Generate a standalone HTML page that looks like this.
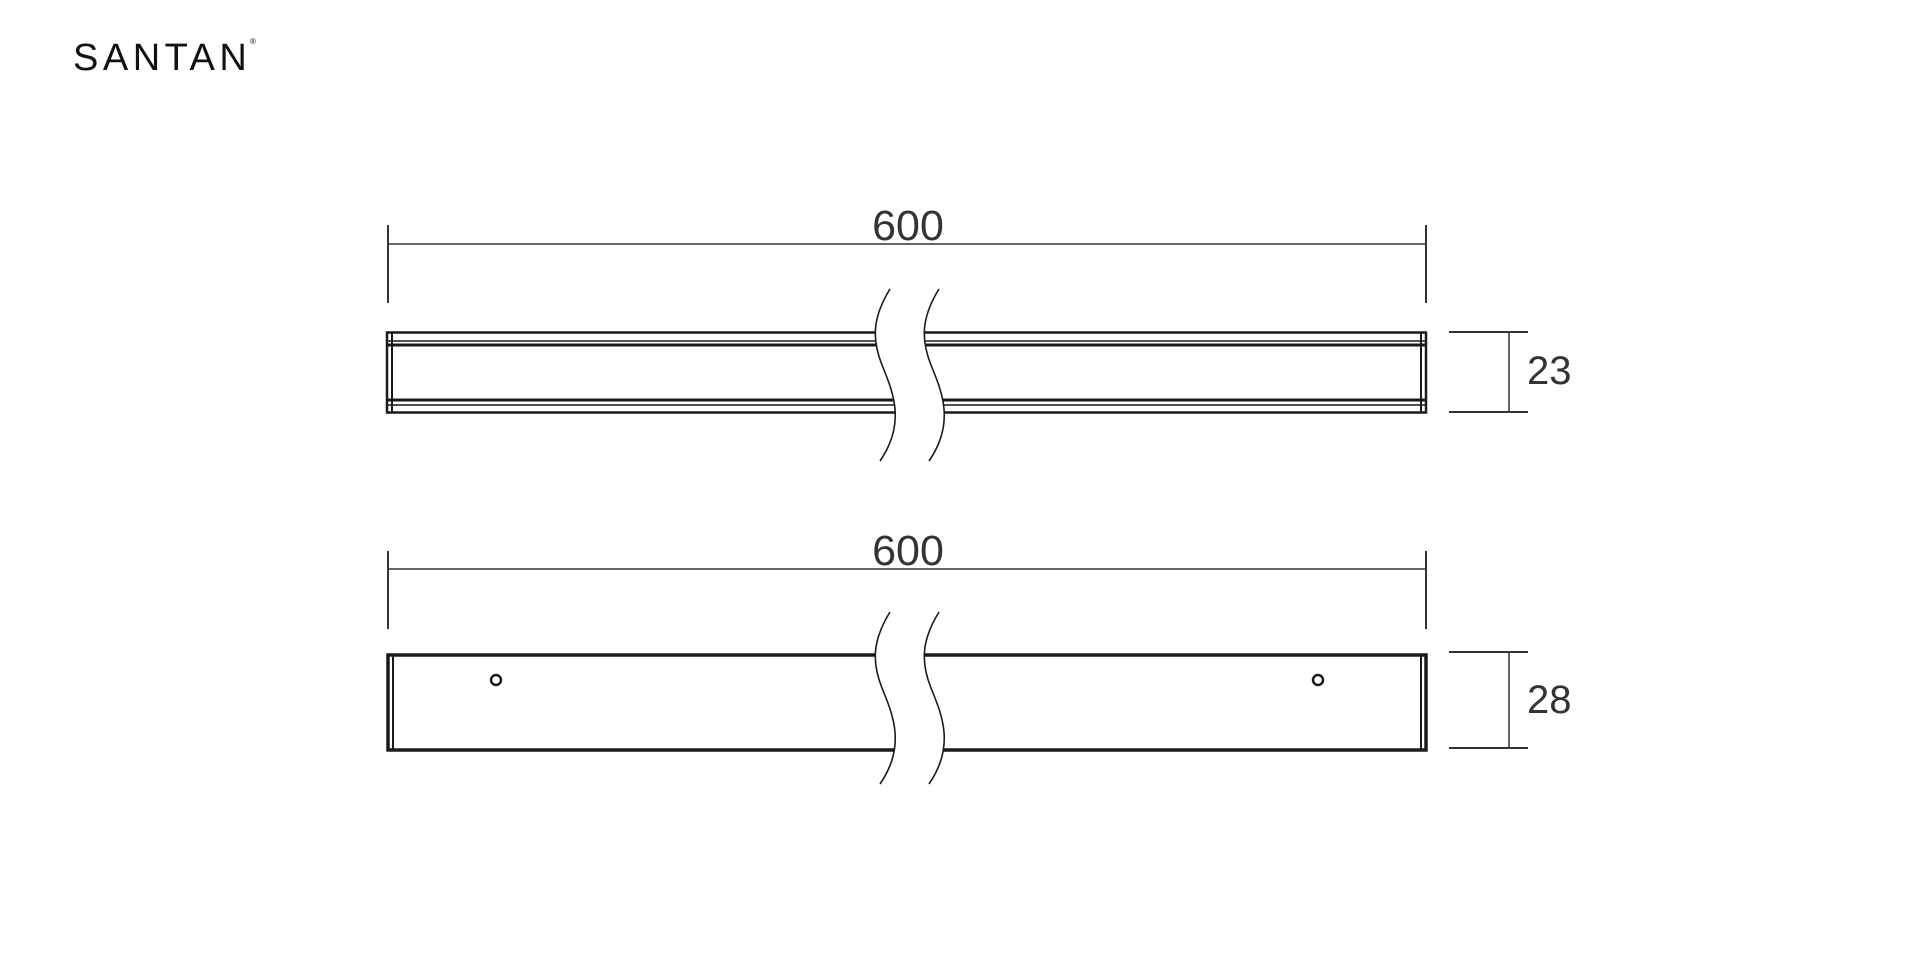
<!DOCTYPE html>
<html><head><style>
html,body{margin:0;padding:0;background:#fff;}
svg{display:block}
</style></head><body>
<svg width="1920" height="960" viewBox="0 0 1920 960" xmlns="http://www.w3.org/2000/svg">
<text x="73" y="70" font-family="Liberation Sans, sans-serif" font-size="38" letter-spacing="4.5" fill="#111">SANTAN</text>
<text x="250" y="44" font-family="Liberation Sans, sans-serif" font-size="8" fill="#111">®</text>

<!-- Top view -->
<g stroke="#333" fill="none">
<line x1="388" y1="225" x2="388" y2="303" stroke-width="2"/>
<line x1="1426" y1="225" x2="1426" y2="303" stroke-width="2"/>
<line x1="388" y1="244" x2="1426" y2="244" stroke-width="1.5"/>
</g>
<text x="908" y="240" text-anchor="middle" font-family="Liberation Sans, sans-serif" font-size="43" fill="#333">600</text>
<g stroke="#1a1a1a" fill="none">
<rect x="387" y="332.5" width="1039" height="80" stroke-width="2.5"/>
<line x1="387" y1="341" x2="1426" y2="341" stroke-width="1.5"/>
<line x1="387" y1="345" x2="1426" y2="345" stroke-width="3"/>
<line x1="387" y1="400" x2="1426" y2="400" stroke-width="3"/>
<line x1="387" y1="405" x2="1426" y2="405" stroke-width="1.5"/>
<line x1="392" y1="332" x2="392" y2="413" stroke-width="2"/>
<line x1="1421" y1="332" x2="1421" y2="413" stroke-width="2"/>
</g>
<g transform="translate(67,0)">
<path d="M823,289 C805,318 805,340 815,365 S840,422 813,461 L862,461 C889,422 874,395 864,365 S854,318 872,289 Z" fill="#fff" stroke="none"/>
<g stroke="#1a1a1a" fill="none" stroke-width="1.6">
<path d="M823,289 C805,318 805,340 815,365 S840,422 813,461"/>
<path d="M872,289 C854,318 854,340 864,365 S889,422 862,461"/>
</g>
</g>
<g stroke="#333" stroke-width="2">
<line x1="1449" y1="332" x2="1528" y2="332"/>
<line x1="1449" y1="412" x2="1528" y2="412"/>
<line x1="1509" y1="332" x2="1509" y2="412" stroke-width="1.5"/>
</g>
<text x="1527" y="384" font-family="Liberation Sans, sans-serif" font-size="40" fill="#333">23</text>

<!-- Front view -->
<g stroke="#333" fill="none">
<line x1="388" y1="551" x2="388" y2="629" stroke-width="2"/>
<line x1="1426" y1="551" x2="1426" y2="629" stroke-width="2"/>
<line x1="388" y1="569" x2="1426" y2="569" stroke-width="1.5"/>
</g>
<text x="908" y="565" text-anchor="middle" font-family="Liberation Sans, sans-serif" font-size="43" fill="#333">600</text>
<g stroke="#1a1a1a" fill="none">
<rect x="388" y="655" width="1038" height="95" stroke-width="3.5"/>
<line x1="393" y1="655" x2="393" y2="750" stroke-width="2"/>
<line x1="1421" y1="655" x2="1421" y2="750" stroke-width="2"/>
<circle cx="496" cy="680" r="5" stroke-width="2.5"/>
<circle cx="1318" cy="680" r="5" stroke-width="2.5"/>
</g>
<g transform="translate(67,323)">
<path d="M823,289 C805,318 805,340 815,365 S840,422 813,461 L862,461 C889,422 874,395 864,365 S854,318 872,289 Z" fill="#fff" stroke="none"/>
<g stroke="#1a1a1a" fill="none" stroke-width="1.6">
<path d="M823,289 C805,318 805,340 815,365 S840,422 813,461"/>
<path d="M872,289 C854,318 854,340 864,365 S889,422 862,461"/>
</g>
</g>
<g stroke="#333" stroke-width="2">
<line x1="1449" y1="652" x2="1528" y2="652"/>
<line x1="1449" y1="748" x2="1528" y2="748"/>
<line x1="1509" y1="652" x2="1509" y2="748" stroke-width="1.5"/>
</g>
<text x="1527" y="713" font-family="Liberation Sans, sans-serif" font-size="40" fill="#333">28</text>
</svg>
</body></html>
